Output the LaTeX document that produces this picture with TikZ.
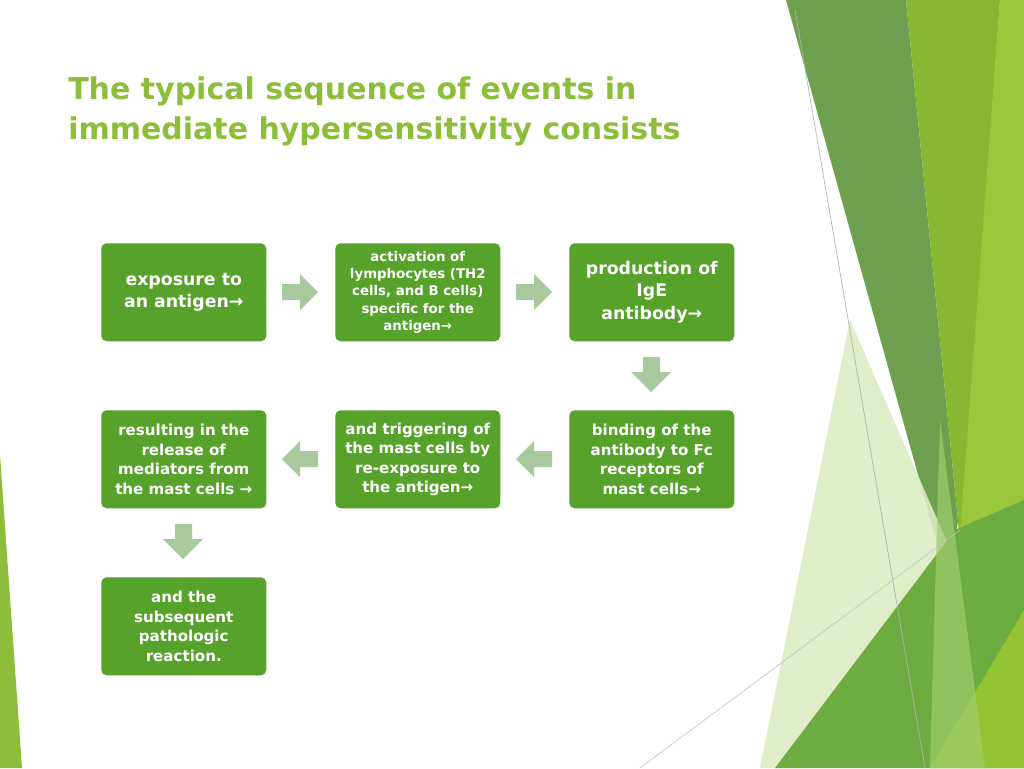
\documentclass[tikz,border=0pt]{standalone}
\usepackage{fontspec}
\setmainfont{DejaVu Sans}
\begin{document}
\begin{tikzpicture}[x=0.75pt,y=-0.75pt,
  box/.style={fill=boxg,rounded corners=4pt,text=white,font=\bfseries,align=center,minimum width=123.75pt,minimum height=73.5pt,inner sep=2pt,anchor=north west},
  bigt/.style={font=\fontsize{13}{17}\selectfont\bfseries},
  smt/.style={font=\fontsize{10}{13}\selectfont\bfseries},
  midt/.style={font=\fontsize{11.3}{14.6}\selectfont\bfseries},
  flow/.style={fill=arrg,draw=none}]
\definecolor{boxg}{HTML}{56A22A}
\definecolor{arrg}{HTML}{A8C99E}
\definecolor{titg}{HTML}{8DBE3A}
\useasboundingbox (0,0) rectangle (1024,768);
\fill[white] (0,0) rectangle (1024,768);
% decoration
\fill[color={rgb,255:red,110;green,160;blue,80}] (786,0)--(906,0)--(958,520)--(950,590)--cycle;
\fill[color={rgb,255:red,136;green,184;blue,50}] (906,0)--(1000,0)--(960,560)--(958,520)--cycle;
\fill[color={rgb,255:red,154;green,198;blue,60}] (1000,0)--(1024,0)--(1024,768)--(960,768)--(958,560)--cycle;
\fill[color={rgb,255:red,220;green,236;blue,196},opacity=0.9] (850,320)--(955,560)--(800,768)--(760,768)--cycle;
\fill[color={rgb,255:red,108;green,172;blue,64}] (775,768)--(955,530)--(1024,500)--(1024,768)--cycle;
\fill[color={rgb,255:red,145;green,195;blue,50}] (930,768)--(1024,610)--(1024,768)--cycle;
\fill[color={rgb,255:red,160;green,205;blue,110},opacity=0.7] (940,420)--(985,768)--(930,768)--cycle;
\draw[gray!60,line width=0.5pt] (795,10)--(925,768);
\draw[gray!50,line width=0.4pt] (640,768)--(960,530);
\fill[color={rgb,255:red,140;green,190;blue,60}] (0,455)--(22,768)--(0,768)--cycle;
% title
\node[anchor=north west,text=titg,font=\fontsize{22.5}{30}\selectfont\bfseries,align=left,inner sep=0] (title) at (68,76) {The typical sequence of events in\\immediate hypersensitivity consists};
% boxes
\node[box,bigt] (b1) at (101,243) {exposure to\\an antigen→};
\node[box,smt] (b2) at (335,243) {activation of\\lymphocytes (TH2\\cells, and B cells)\\specific for the\\antigen→};
\node[box,bigt] (b3) at (569,243) {production of\\IgE\\antibody→};
\node[box,midt] (b4) at (569,410) {binding of the\\antibody to Fc\\receptors of\\mast cells→};
\node[box,midt] (b5) at (335,410) {and triggering of\\the mast cells by\\re-exposure to\\the antigen→};
\node[box,midt] (b6) at (101,410) {resulting in the\\release of\\mediators from\\the mast cells →};
\node[box,midt] (b7) at (101,577) {and the\\subsequent\\pathologic\\reaction.};
% block arrows
\fill[flow] (282,284)--(300,284)--(300,274)--(318,292)--(300,310)--(300,300)--(282,300)--cycle;
\fill[flow] (516,284)--(534,284)--(534,274)--(552,292)--(534,310)--(534,300)--(516,300)--cycle;
\fill[flow] (643,357)--(660,357)--(660,372)--(671,372)--(651,392)--(631,372)--(643,372)--cycle;
\fill[flow] (552,451)--(534,451)--(534,441)--(516,459)--(534,477)--(534,467)--(552,467)--cycle;
\fill[flow] (318,451)--(300,451)--(300,441)--(282,459)--(300,477)--(300,467)--(318,467)--cycle;
\fill[flow] (175,524)--(192,524)--(192,539)--(203,539)--(183,559)--(163,539)--(175,539)--cycle;
\end{tikzpicture}
\end{document}
